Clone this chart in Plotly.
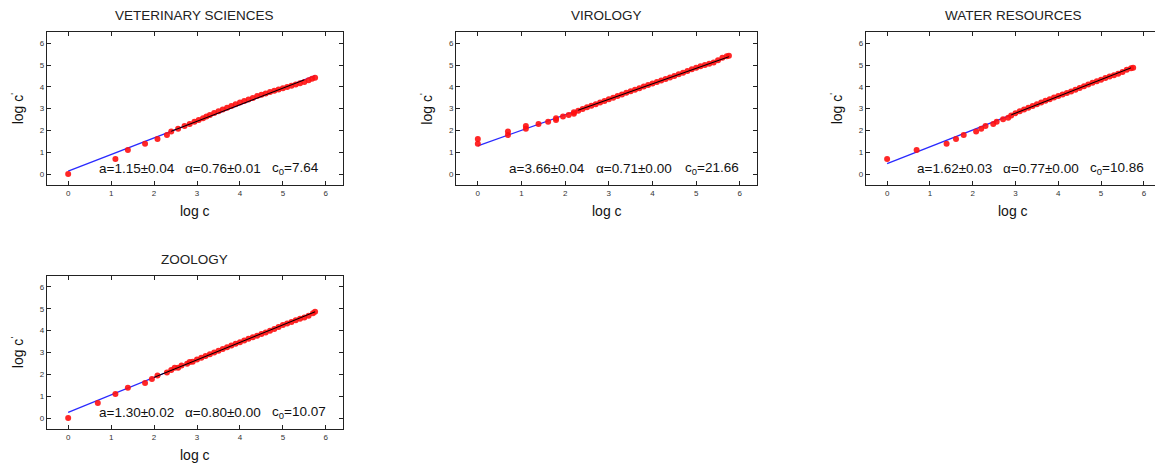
import plotly.graph_objects as go
import math

titles = ["VETERINARY SCIENCES", "VIROLOGY", "WATER RESOURCES", "ZOOLOGY"]

# fit parameters
a_vals = [1.15, 3.66, 1.62, 1.30]
a_errs = [0.04, 0.04, 0.03, 0.02]
alpha_vals = [0.76, 0.71, 0.77, 0.80]
alpha_errs = [0.01, 0.00, 0.00, 0.00]
c0_vals = [7.64, 21.66, 10.86, 10.07]
fit_start = [2.4, 2.3, 2.9, 2.0]
fit_end = [5.5, 5.75, 5.7, 5.75]
x_max = [5.75, 5.75, 5.75, 5.75]

# data: log c vs log c'
vet_x = [0, 1.10, 1.39, 1.79, 2.08, 2.30, 2.40, 2.56, 2.71, 2.83, 2.94, 3.04, 3.14, 3.22, 3.30,
         3.40, 3.50, 3.60, 3.70, 3.80, 3.90, 4.00, 4.10, 4.20, 4.30, 4.40, 4.50, 4.60, 4.70, 4.80,
         4.90, 5.00, 5.10, 5.20, 5.30, 5.40, 5.50, 5.60, 5.68, 5.75]
vet_y = [0, 0.69, 1.10, 1.39, 1.61, 1.79, 1.95, 2.08, 2.20, 2.30, 2.40, 2.48, 2.56, 2.64, 2.71,
         2.80, 2.88, 2.96, 3.04, 3.12, 3.20, 3.28, 3.35, 3.42, 3.49, 3.58, 3.64, 3.70, 3.76, 3.82,
         3.88, 3.94, 3.99, 4.05, 4.11, 4.17, 4.22, 4.30, 4.37, 4.42]

vir_x = [0, 0, 0.69, 0.69, 1.10, 1.10, 1.39, 1.61, 1.79, 1.79, 1.95, 2.08, 2.20, 2.20,
         2.30, 2.40, 2.50, 2.60, 2.70, 2.80, 2.90, 3.00, 3.10, 3.20, 3.30, 3.40, 3.50, 3.60,
         3.70, 3.80, 3.90, 4.00, 4.10, 4.20, 4.30, 4.40, 4.50, 4.60, 4.70, 4.80, 4.90, 5.00,
         5.10, 5.20, 5.30, 5.40, 5.50, 5.60, 5.70, 5.75]
vir_y = [1.39, 1.61, 1.79, 1.95, 2.08, 2.20, 2.30, 2.40, 2.48, 2.56, 2.64, 2.71, 2.77, 2.83,
         2.90, 2.98, 3.06, 3.13, 3.20, 3.28, 3.35, 3.43, 3.50, 3.58, 3.65, 3.73, 3.80, 3.87,
         3.94, 4.01, 4.08, 4.15, 4.22, 4.29, 4.36, 4.43, 4.50, 4.58, 4.65, 4.73, 4.81, 4.88,
         4.94, 5.00, 5.06, 5.11, 5.22, 5.33, 5.40, 5.42]

wat_x = [0, 0.69, 1.39, 1.61, 1.79, 2.08, 2.20, 2.30, 2.48, 2.56, 2.71, 2.83,
         2.90, 3.00, 3.10, 3.20, 3.30, 3.40, 3.50, 3.60, 3.70, 3.80, 3.90, 4.00, 4.10, 4.20,
         4.30, 4.40, 4.50, 4.60, 4.70, 4.80, 4.90, 5.00, 5.10, 5.20, 5.30, 5.40, 5.50, 5.60,
         5.70, 5.75]
wat_y = [0.69, 1.10, 1.39, 1.61, 1.79, 1.95, 2.08, 2.20, 2.30, 2.40, 2.51, 2.58,
         2.69, 2.79, 2.88, 2.96, 3.04, 3.12, 3.20, 3.28, 3.36, 3.43, 3.51, 3.58, 3.65, 3.72,
         3.79, 3.87, 3.95, 4.03, 4.11, 4.19, 4.26, 4.33, 4.40, 4.47, 4.53, 4.60, 4.68, 4.78,
         4.85, 4.87]

zoo_x = [0, 0.69, 1.10, 1.39, 1.79, 1.95, 2.08, 2.30, 2.40, 2.48, 2.56, 2.64, 2.77, 2.83,
         2.90, 3.00, 3.10, 3.20, 3.30, 3.40, 3.50, 3.60, 3.70, 3.80, 3.90, 4.00, 4.10, 4.20,
         4.30, 4.40, 4.50, 4.60, 4.70, 4.80, 4.90, 5.00, 5.10, 5.20, 5.30, 5.40, 5.50, 5.60,
         5.70, 5.75]
zoo_y = [0, 0.69, 1.10, 1.39, 1.61, 1.79, 1.95, 2.08, 2.20, 2.30, 2.30, 2.40, 2.48, 2.56,
         2.58, 2.68, 2.76, 2.84, 2.92, 3.00, 3.08, 3.16, 3.24, 3.32, 3.40, 3.47, 3.55, 3.63,
         3.70, 3.77, 3.85, 3.92, 4.00, 4.08, 4.17, 4.26, 4.33, 4.40, 4.47, 4.54, 4.60, 4.68,
         4.80, 4.86]

data_x = [vet_x, vir_x, wat_x, zoo_x]
data_y = [vet_y, vir_y, wat_y, zoo_y]

ticks = [0, 1, 2, 3, 4, 5, 6]
tick_labels = ["0", "1", "2", "3", "4", "5", "6"]

# the page body adds an 8px margin, so the figure is a bit smaller than the window
OFF = 8
W, H = 1155, 461
# panel boxes in window pixels: (left, right, top, bottom)
boxes = [(46.7, 343.0, 32.3, 185.0),
         (456.0, 757.3, 32.3, 185.0),
         (865.7, 1161.0, 32.3, 185.0),
         (46.7, 343.0, 276.0, 429.0)]

fig = go.Figure()
layout = dict(width=W, height=H, margin=dict(l=0, r=0, t=0, b=0), autosize=False,
              paper_bgcolor="white", plot_bgcolor="white", showlegend=False,
              font=dict(family="Liberation Sans, Arial, sans-serif", color="#111"))
annotations = []

for i in range(4):
    n = "" if i == 0 else str(i + 1)
    xa, ya = "x" + n, "y" + n
    L, R, T, B = [v - OFF for v in boxes[i]]
    axis_common = dict(showgrid=False, zeroline=False, showline=True, linecolor="#222",
                       linewidth=1, mirror="ticks", ticks="inside", ticklen=4,
                       tickcolor="#222", tickvals=ticks, ticktext=tick_labels,
                       tickfont=dict(size=8, color="#333"))
    layout["xaxis" + n] = dict(domain=[L / W, R / W], anchor=ya, range=[-0.5, 6.4],
                               **axis_common)
    layout["yaxis" + n] = dict(domain=[1 - B / H, 1 - T / H], anchor=xa, range=[-0.5, 6.5],
                               **axis_common)

    la = math.log(a_vals[i])
    al = alpha_vals[i]
    # blue fit line
    fig.add_trace(go.Scatter(x=[0, x_max[i]], y=[la, la + al * x_max[i]], mode="lines",
                             line=dict(color="#2a2aff", width=1.3), xaxis=xa, yaxis=ya,
                             hoverinfo="skip"))
    # data points
    fig.add_trace(go.Scatter(x=data_x[i], y=data_y[i], mode="markers",
                             marker=dict(color="#ff1010", size=6, opacity=0.9),
                             xaxis=xa, yaxis=ya))
    # black fit over fitting range
    fig.add_trace(go.Scatter(x=[fit_start[i], fit_end[i]],
                             y=[la + al * fit_start[i], la + al * fit_end[i]], mode="lines",
                             line=dict(color="black", width=1), xaxis=xa, yaxis=ya,
                             hoverinfo="skip"))

    # title
    annotations.append(dict(text=titles[i], x=(L + R) / 2 / W, y=1 - (T - 16.5) / H,
                            xref="paper", yref="paper", showarrow=False,
                            font=dict(size=13.5, color="#222"), xanchor="center",
                            yanchor="middle"))
    # axis titles
    annotations.append(dict(text="log c", x=(L + R) / 2 / W, y=1 - (B + 25.7) / H,
                            xref="paper", yref="paper", showarrow=False,
                            font=dict(size=14, color="#111"), xanchor="center",
                            yanchor="middle"))
    annotations.append(dict(text="log c<sup>'</sup>", x=(L - 30) / W, y=1 - (T + B) / 2 / H,
                            xref="paper", yref="paper", showarrow=False, textangle=-90,
                            font=dict(size=14, color="#111"), xanchor="center",
                            yanchor="middle"))
    # fit parameter text
    parts = ["a=%.2f±%.2f" % (a_vals[i], a_errs[i]),
             "α=%.2f±%.2f" % (alpha_vals[i], alpha_errs[i]),
             "c<sub>0</sub>=%.2f" % c0_vals[i]]
    for px, txt in zip([0.66, 2.67, 4.70], parts):
        annotations.append(dict(text=txt, x=px, y=0.25, xref=xa, yref=ya, showarrow=False,
                                xanchor="left", yanchor="middle",
                                font=dict(size=13.5, color="#111")))

layout["annotations"] = annotations
fig.update_layout(**layout)
fig.write_html("out.html")
